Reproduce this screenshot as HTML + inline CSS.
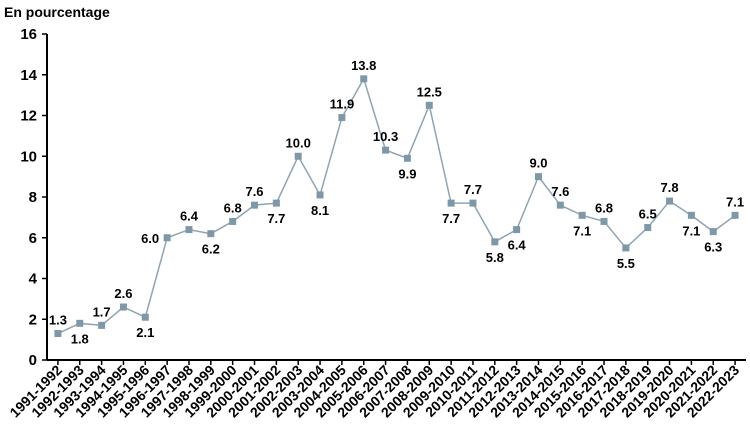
<!DOCTYPE html>
<html><head><meta charset="utf-8"><style>
body{margin:0;background:#fff;}
svg{display:block;font-family:"Liberation Sans",Arial,sans-serif;font-weight:bold;}
</style></head><body>
<svg id="c" width="750" height="432">
<text x="4" y="17" font-size="14" fill="#000">En pourcentage</text>
</svg>
<script>
const categories=["1991-1992","1992-1993","1993-1994","1994-1995","1995-1996","1996-1997","1997-1998","1998-1999","1999-2000","2000-2001","2001-2002","2002-2003","2003-2004","2004-2005","2005-2006","2006-2007","2007-2008","2008-2009","2009-2010","2010-2011","2011-2012","2012-2013","2013-2014","2014-2015","2015-2016","2016-2017","2017-2018","2018-2019","2019-2020","2020-2021","2021-2022","2022-2023"];
const values=[1.3,1.8,1.7,2.6,2.1,6.0,6.4,6.2,6.8,7.6,7.7,10.0,8.1,11.9,13.8,10.3,9.9,12.5,7.7,7.7,5.8,6.4,9.0,7.6,7.1,6.8,5.5,6.5,7.8,7.1,6.3,7.1];
const labelPos=["a","b","a","a","b","l","a","b","a","a","b","a","b","a","a","a","b","a","b","a","b","b","a","a","b","a","b","a","a","b","b","a"];
const yTicks=[0,2,4,6,8,10,12,14,16];
const svg=document.getElementById('c');
const NS="http://www.w3.org/2000/svg";
const X0=47,X1=746,Y0=360,Y1=34,YMAX=16;
const bw=(X1-X0)/categories.length;
const x=i=>X0+bw*(i+0.5);
const y=v=>Y0-(Y0-Y1)*v/YMAX;
function mk(t,a){const e=document.createElementNS(NS,t);for(const k in a)e.setAttribute(k,a[k]);svg.appendChild(e);return e;}
let e=mk('line',{x1:X0,y1:Y1,x2:X0,y2:Y0,stroke:'#000','stroke-width':2});


e=mk('line',{x1:X0,y1:Y0,x2:X1,y2:Y0,stroke:'#000','stroke-width':2});


yTicks.forEach(v=>{
 mk('line',{x1:X0-5,y1:y(v),x2:X0,y2:y(v),stroke:'#000','stroke-width':1.5});
 const t=mk('text',{x:X0-10,y:y(v)+5,'font-size':15,'text-anchor':'end'});t.textContent=v;
 
 
});
categories.forEach((c,i)=>{
 mk('line',{x1:x(i),y1:Y0,x2:x(i),y2:Y0+5,stroke:'#000','stroke-width':1.5});
 const t=mk('text',{x:0,y:0,'font-size':14,'text-anchor':'end',transform:`translate(${x(i)+5},${Y0+11}) rotate(-45)`});
 t.textContent=c;
 
 
});
e=mk('polyline',{points:values.map((v,i)=>x(i)+','+y(v)).join(' '),fill:'none',stroke:'#8fa4b2','stroke-width':1.5});


values.forEach((v,i)=>{
 const r=mk('rect',{x:x(i)-3.5,y:y(v)-3.5,width:7,height:7,fill:'#7f98a8'});
 
 
 const p=labelPos[i];
 let lx=x(i),ly=y(v)-9,anc='middle';
 if(p==='b')ly=y(v)+20;
 if(p==='l'){lx=x(i)-8;ly=y(v)+5;anc='end';}
 const t=mk('text',{x:lx,y:ly,'font-size':13,'text-anchor':anc});
 t.textContent=v.toFixed(1);
 
 
});
</script>
</body></html>
